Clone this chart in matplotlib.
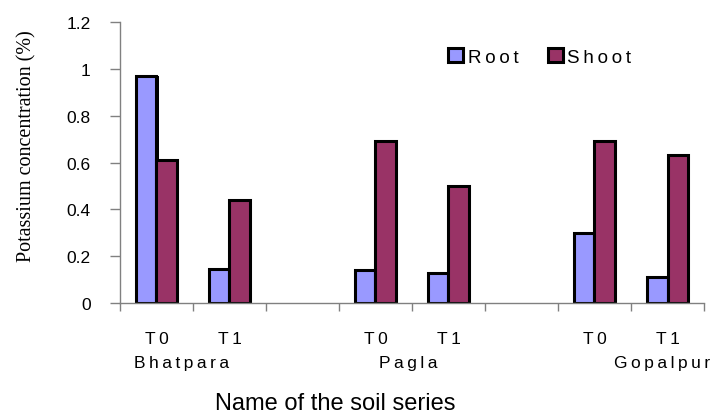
import numpy as np
import matplotlib
matplotlib.use("Agg")
import matplotlib.pyplot as plt
import matplotlib.transforms as mtransforms
import matplotlib.patheffects as pe
from matplotlib.patches import Patch

# K concentration by soil series and treatment (blank slot between series)
categories = ["T0", "T1", "", "T0", "T1", "", "T0", "T1"]
root = [0.97, 0.145, np.nan, 0.14, 0.13, np.nan, 0.30, 0.11]
shoot = [0.61, 0.44, np.nan, 0.69, 0.50, np.nan, 0.69, 0.63]
series_names = ["Bhatpara", "Pagla", "Gopalpur"]
series_label_x = [0.35, 3.45, 6.92]

ROOT_COLOR = "#9999FF"
SHOOT_COLOR = "#993366"
SANS = ["Liberation Sans", "DejaVu Sans"]


def tracked(s):
    # Excel-style letter spacing
    return "\u2009".join(s)


plt.rcParams["font.family"] = SANS

fig = plt.figure(figsize=(7.14, 4.14), dpi=100)
ax = fig.add_axes([0.168, 0.2657, 0.986 - 0.168, 0.9444 - 0.2657])

x = np.arange(len(categories))
w = 0.28
shadow = [pe.SimplePatchShadow(offset=(1.5, 0), shadow_rgbFace="black", alpha=1.0), pe.Normal()]
b1 = ax.bar(x - w / 2, root, w, color=ROOT_COLOR, edgecolor="black", linewidth=2.2)
b2 = ax.bar(x + w / 2, shoot, w, color=SHOOT_COLOR, edgecolor="black", linewidth=2.2)
for b in list(b1) + list(b2):
    b.set_path_effects(shadow)

ax.set_xlim(-0.5, len(categories) - 0.5)
ax.set_ylim(0, 1.2)
ax.set_yticks(np.arange(0, 1.21, 0.2))
ax.set_yticklabels(["0", "0.2", "0.4", "0.6", "0.8", "1", "1.2"], fontsize=12.5)

ax.set_xticks(x)
ax.set_xticklabels([tracked(c) for c in categories], fontsize=12.5)
ax.set_xticks(np.arange(-0.5, len(categories), 1.0), minor=True)
ax.tick_params(axis="x", which="major", length=0, pad=20)
ax.tick_params(axis="x", which="minor", length=6, width=1, color="#808080", direction="out")
ax.tick_params(axis="y", length=7, width=1, color="#808080", pad=14)

for side in ("top", "right"):
    ax.spines[side].set_visible(False)
for side in ("left", "bottom"):
    ax.spines[side].set_color("#808080")
    ax.spines[side].set_linewidth(1)

# series names under the treatment labels
trans = mtransforms.blended_transform_factory(ax.transData, fig.transFigure)
for name, xp in zip(series_names, series_label_x):
    ax.text(xp, 0.123, tracked(name), transform=trans, ha="center", va="center",
            fontsize=12.5, clip_on=False)

fig.text(0.469, 0.024, "Name of the soil series", ha="center", va="center", fontsize=17)
fig.text(0.037, 0.647, "Potassium concentration (%)", rotation=90, ha="center", va="center",
         fontsize=14.5, family=["Liberation Serif", "DejaVu Serif"])

handles = [Patch(facecolor=ROOT_COLOR, edgecolor="black", linewidth=2.2),
           Patch(facecolor=SHOOT_COLOR, edgecolor="black", linewidth=2.2)]
fig.legend(handles, [tracked("Root"), tracked("Shoot")], loc="center left",
           bbox_to_anchor=(0.628, 0.86), ncol=2, frameon=False, fontsize=13.5,
           handlelength=0.8, handleheight=0.75, handletextpad=0.25, columnspacing=1.55,
           borderpad=0, borderaxespad=0)

fig.savefig("out.png", dpi=100)
